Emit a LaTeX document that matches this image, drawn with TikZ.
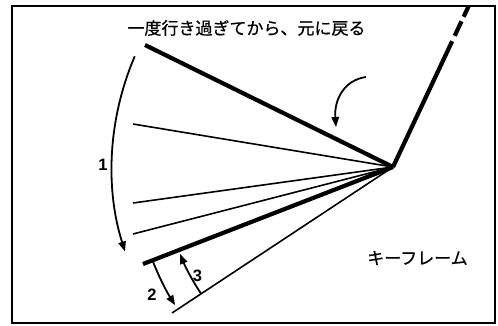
\documentclass[tikz,border=0pt]{standalone}
\usepackage{fontspec}
\setmainfont{Liberation Sans}
\newfontfamily\jpfont{Noto Sans CJK JP}[FakeBold=0.6]
\usetikzlibrary{arrows.meta,calc}
\begin{document}
\begin{tikzpicture}[x=1pt,y=-1pt,
  ray/.style={line width=1.6pt},
  keyray/.style={line width=4.2pt,line cap=butt},
  arcarrow/.style={line width=1.8pt,-{Triangle[length=10pt,width=7.5pt]}},
  jp/.style={font=\jpfont\fontsize{17}{17}\selectfont, inner sep=0pt},
  num/.style={font=\bfseries\fontsize{16.5}{16.5}\selectfont, inner sep=0pt}]
\useasboundingbox (0,0) rectangle (498,325);
\draw[line width=2pt] (12,6) rectangle (495,323);
\coordinate (P) at (393,167);
\coordinate (T) at (468.7,6);
\coordinate (A) at (145,45);
\coordinate (B) at (133,124);
\coordinate (C) at (133,203);
\coordinate (D) at (133,234);
\coordinate (E) at (143,264);
\coordinate (F) at (172,313);
% upper arm (solid then dashed)
\draw[keyray,dash pattern=on 139pt off 6pt on 16pt off 5pt on 30pt] (P) -- (T);
% key rays
\draw[keyray] (P) -- (A);
\draw[keyray] (P) -- (E);
% thin rays
\draw[ray] (P) -- (B);
\draw[ray] (P) -- (C);
\draw[ray] (P) -- (D);
\draw[ray] (P) -- (F);
% arc 1
\draw[arcarrow] ($(P)+(203.2:281)$) arc[start angle=203.2, end angle=162.5, radius=281];
% arc 2
\draw[arcarrow] ($(P)+(158.5:258)$) arc[start angle=158.5, end angle=147.6, radius=258];
% arc 3
\draw[arcarrow] ($(P)+(146.6:230)$) arc[start angle=146.6, end angle=157.8, radius=230];
% curved arrow toward top key
\coordinate (cs) at (366,77);
\coordinate (ce) at (336,127);
\draw[arcarrow] (cs) .. controls (344,80) and (334,100) .. (ce);
% texts
\node[jp] (title) at (246.5,28) {一度行き過ぎてから、元に戻る};
\node[jp] (key) at (417.5,258) {キーフレーム};
\node[num] (n1) at (103,164.5) {1};
\node[num] (n2) at (152,295) {2};
\node[num] (n3) at (197.5,276) {3};
\end{tikzpicture}
\end{document}
